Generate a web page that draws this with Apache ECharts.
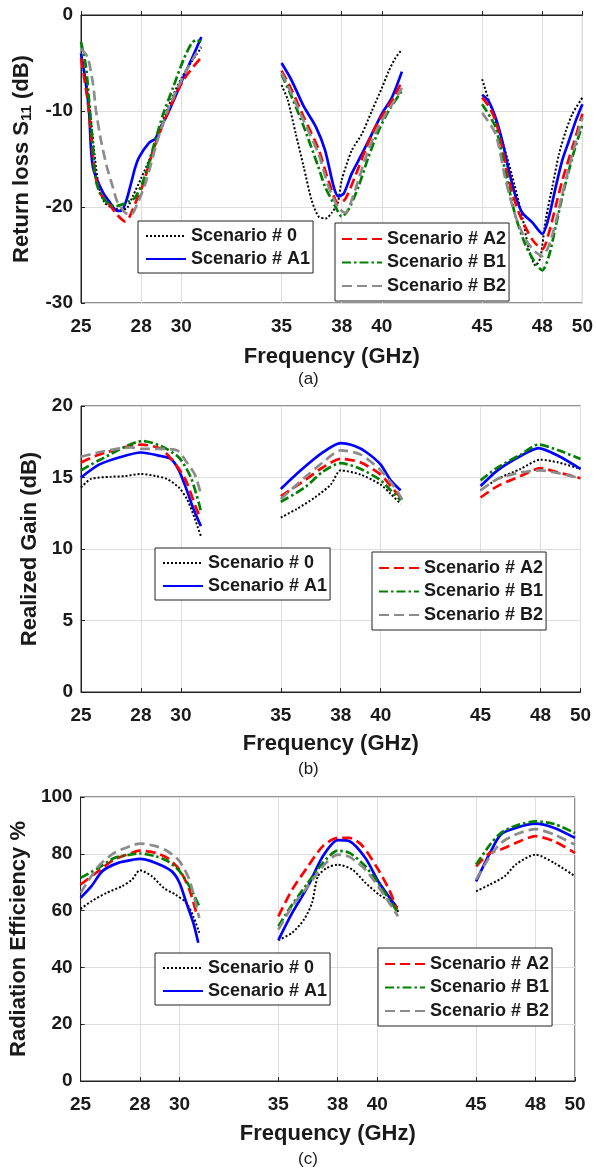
<!DOCTYPE html>
<html>
<head>
<meta charset="utf-8">
<script src="https://cdn.jsdelivr.net/npm/echarts@6/dist/echarts.min.js"></script>
<style>
html,body{margin:0;padding:0;background:#fff;}
#chart{width:596px;height:1169px;}
</style>
</head>
<body>
<div id="chart"></div>
<script>
// ---------------- DATA ----------------
const scenarioNames = ['Scenario # 0', 'Scenario # A1', 'Scenario # A2', 'Scenario # B1', 'Scenario # B2'];
const xTicks = [25, 28, 30, 35, 38, 40, 45, 48, 50];

// (a) Return loss S11 (dB): three bands per scenario, [GHz, dB]
const s11_sc0 = [
  [[25,-4.5],[25.3,-7.5],[25.5,-11],[25.7,-15],[25.9,-18],[26.2,-19.6],[26.6,-20.1],[27,-20.3],[27.3,-20.1],[27.6,-18.8],[28,-17],[28.5,-14.6],[29,-11.5],[29.5,-8.8],[30,-6.6],[30.5,-4.9],[31,-3.4]],
  [[35,-7.3],[35.3,-8.8],[35.7,-12.3],[36.1,-15.8],[36.5,-19.3],[36.85,-21],[37.2,-21.2],[37.5,-20.6],[37.8,-19.6],[38,-17.2],[38.5,-14.1],[39,-12.4],[39.5,-10],[40,-7.6],[40.33,-5.9],[40.67,-4.5],[41,-3.6]],
  [[45,-6.7],[45.5,-10],[46,-13.1],[46.5,-16.8],[47,-21],[47.33,-24.4],[47.67,-26.1],[47.9,-25.3],[48.17,-21.3],[48.5,-17.9],[48.83,-14.5],[49.17,-12.1],[49.5,-10.3],[50,-8.6]]
];
const s11_a1 = [
  [[25,-4],[25.2,-6.5],[25.4,-10],[25.5,-14],[25.6,-15.9],[25.75,-16.9],[26.1,-18.5],[26.4,-19.4],[26.8,-20.4],[27,-20.4],[27.25,-19.4],[27.5,-17.5],[27.7,-15.9],[27.9,-14.8],[28.4,-13.3],[28.7,-12.9],[28.9,-12],[29.25,-10.6],[29.7,-8.5],[30.1,-6.5],[30.6,-4.2],[31,-2.3]],
  [[35,-5],[35.5,-6.8],[36.1,-9.5],[36.7,-11.6],[37.17,-14.1],[37.6,-17.9],[37.83,-18.9],[38.1,-18.6],[38.5,-16.5],[39,-14.5],[39.5,-12.4],[40,-10.3],[40.5,-8.6],[41,-5.9]],
  [[45,-8.3],[45.33,-9],[45.67,-10.7],[46,-13.1],[46.33,-16.2],[46.67,-18.9],[47,-20.6],[47.5,-21.6],[48,-22.8],[48.33,-21],[48.67,-17.9],[49,-15.1],[49.33,-13.1],[49.67,-11],[50,-9.3]]
];
const s11_a2 = [
  [[25,-4.5],[25.33,-8.9],[25.5,-12.4],[25.7,-16.6],[26,-18.7],[26.4,-19.7],[26.8,-20.8],[27.2,-21.5],[27.4,-21.1],[27.75,-19.4],[28.1,-17.6],[28.6,-14.1],[29.1,-11.3],[29.6,-8.9],[30.1,-6.8],[30.6,-5.4],[31,-4.4]],
  [[35,-5.8],[35.5,-7.8],[36.1,-10.6],[36.85,-14],[37.33,-17.2],[37.83,-19.6],[38.17,-19.2],[38.67,-16.8],[39.17,-14.1],[39.67,-11.7],[40.17,-10],[40.67,-8.3],[41,-6.9]],
  [[45,-8.6],[45.33,-9.5],[45.67,-11],[46,-13.8],[46.33,-17.2],[46.83,-20.6],[47.5,-23.4],[48,-24.4],[48.33,-22.7],[48.67,-19.9],[49,-17.2],[49.5,-13.8],[50,-10.3]]
];
const s11_b1 = [
  [[25,-2.8],[25.25,-5.4],[25.4,-8.9],[25.6,-13.8],[25.75,-17.3],[26,-18.8],[26.4,-19.7],[26.75,-19.9],[27.1,-19.7],[27.4,-19.4],[27.7,-19],[28.1,-17.3],[28.6,-13.8],[29.1,-10.3],[29.6,-7.5],[30.1,-4.7],[30.5,-3],[30.75,-2.6],[31,-2.8]],
  [[35,-6.2],[35.5,-8.5],[36.1,-11.6],[36.83,-15.8],[37.17,-17.9],[37.67,-19.9],[38,-21],[38.33,-20.3],[38.83,-17.9],[39.33,-14.8],[39.83,-12.1],[40.33,-10],[41,-7.9]],
  [[45,-9.3],[45.67,-11.7],[46.17,-16.5],[46.67,-21],[47.17,-24],[47.67,-25.9],[48,-26.6],[48.33,-25.1],[48.67,-22],[49,-18.9],[49.5,-14.8],[50,-11.4]]
];
const s11_b2 = [
  [[25,-3.5],[25.33,-4.4],[25.6,-7.2],[25.75,-10],[26,-13.1],[26.3,-15.9],[26.6,-18],[26.8,-19.4],[27.2,-20.6],[27.5,-20.8],[27.8,-19.7],[28.25,-17.3],[28.75,-13.5],[29.25,-10.3],[29.75,-7.9],[30.25,-5.8],[30.75,-4],[31,-3.3]],
  [[35,-6],[35.5,-8.2],[36.1,-11],[36.85,-14.5],[37.33,-17.8],[37.83,-20.1],[38.17,-20.6],[38.67,-18.2],[39.17,-15],[39.67,-12.3],[40.17,-10.4],[40.67,-8.8],[41,-7.6]],
  [[45,-10.2],[45.67,-12.4],[46.17,-17.2],[46.67,-21],[47.17,-23.4],[47.67,-24.7],[48,-25.1],[48.33,-24],[48.67,-21.6],[49,-18.6],[49.5,-14.5],[50,-10.7]]
];

// (b) Realized gain (dB)
const gain_sc0 = [
  [[25,14.3],[25.5,14.9],[26.5,15.05],[27.2,15.1],[28,15.25],[28.75,15.1],[29.3,14.9],[29.9,14.3],[30.3,13.5],[30.6,12.5],[30.85,11.5],[31,10.9]],
  [[35,12.2],[35.8,12.8],[36.7,13.6],[37.5,14.5],[38,15.5],[39,15.2],[40,14.5],[40.5,13.85],[41,13.15]],
  [[45,14.1],[45.85,14.9],[47,15.6],[48,16.25],[48.9,16.05],[50,15.6]]
];
const gain_a1 = [
  [[25,15],[25.9,15.9],[26.9,16.4],[28,16.75],[29,16.5],[29.5,16.3],[29.9,15.5],[30.3,14.1],[30.6,12.9],[31,11.6]],
  [[35,14.2],[36,15.5],[37.1,16.75],[38,17.4],[38.7,17.2],[39.3,16.75],[40,15.9],[40.5,14.8],[41,14.1]],
  [[45,14.4],[45.85,15.5],[47,16.5],[47.9,17.05],[48.9,16.5],[50,15.6]]
];
const gain_a2 = [
  [[25,16.05],[25.9,16.6],[28,17.3],[29,17.0],[29.75,15.9],[30.25,14.8],[30.75,12.9],[31,12.1]],
  [[35,13.7],[36.2,14.8],[37.1,15.7],[38,16.3],[39,16.05],[40,15.2],[40.5,14.4],[41,13.6]],
  [[45,13.6],[45.85,14.4],[47,15.1],[48,15.65],[48.9,15.35],[50,14.95]]
];
const gain_b1 = [
  [[25,15.5],[25.9,16.2],[28.1,17.55],[29,17.2],[29.9,16.4],[30.5,15.0],[30.9,13.2],[31,12.6]],
  [[35,13.3],[36.2,14.3],[37.1,15.4],[38,16.0],[39,15.6],[40,14.8],[40.5,14.1],[41,13.4]],
  [[45,14.8],[45.85,15.7],[47,16.6],[47.9,17.3],[48.9,16.9],[50,16.3]]
];
const gain_b2 = [
  [[25,16.45],[26,16.8],[27.5,17.1],[28,17.0],[29,17.0],[29.8,16.9],[30.3,16.05],[30.7,15.2],[31,13.85]],
  [[35,13.5],[36.2,15.0],[37.1,16.05],[38,16.9],[39,16.6],[40,15.5],[40.8,14.1],[41.2,13.15]],
  [[45,14.1],[45.85,14.9],[47,15.35],[48,15.5],[48.9,15.3],[50,14.95]]
];

// (c) Radiation efficiency (%)
const eff_sc0 = [
  [[25,60.6],[25.55,63.3],[26.3,66.2],[27.1,68.6],[27.6,70.9],[28,74.2],[28.6,72.1],[29.2,68],[29.8,65.6],[30.35,62.7],[30.7,58],[31,52.2]],
  [[35,49.6],[35.7,52.2],[36.3,56.9],[36.7,62.7],[37,72.1],[37.45,75],[38,76.2],[38.75,74.4],[39.4,69.8],[40.1,65.6],[40.9,62.2],[41.05,59.5]],
  [[45,66.8],[45.7,69.2],[46.45,72.1],[47,76.2],[48,79.7],[48.95,76.8],[50,72.1]]
];
const eff_a1 = [
  [[25,64.5],[25.55,68.6],[26.1,73.9],[26.9,76.8],[27.7,78],[28,78.2],[28.8,76.8],[29.6,73.9],[30,69.8],[30.35,62.7],[30.7,55.7],[30.95,48.7]],
  [[35,49.6],[35.7,59.2],[36.5,68.6],[37.25,79.1],[38,84.8],[38.6,84.4],[39.4,78.5],[40.1,69.8],[41,61]],
  [[45,70.3],[45.7,80.3],[46.25,86.8],[47,89.1],[48,90.6],[48.95,89.1],[50,85.6]]
];
const eff_a2 = [
  [[25,69.2],[25.9,73.9],[26.7,78],[27.5,80.1],[28,81.1],[28.8,80.3],[29.4,78.5],[30,74.4],[30.5,67.4],[30.9,58]],
  [[35,58],[35.7,67.4],[36.5,75.6],[37.25,82.7],[38,85.6],[38.6,85.6],[39.2,83.2],[39.95,75.6],[40.6,67.4],[41,60.4]],
  [[45,75.6],[45.7,80.3],[46.25,81.5],[47,83.8],[48,86.2],[48.95,84.4],[50,80.3]]
];
const eff_b1 = [
  [[25,71.5],[25.9,75],[26.7,78.5],[27.5,79.7],[28,80.1],[28.8,79.1],[29.4,77.4],[30,73.9],[30.5,68.6],[31,61.5]],
  [[35,54.5],[35.7,62.1],[36.5,69.8],[37.25,76.8],[38,81.1],[38.6,80.3],[39.4,75.6],[40.1,69.2],[41,59.8]],
  [[45,76.2],[45.7,83.2],[46.25,87.3],[47,89.9],[48,91.4],[48.95,90.5],[50,87.3]]
];
const eff_b2 = [
  [[25,66.2],[25.9,75.6],[26.7,80.3],[27.5,82.7],[28,83.6],[28.8,82.7],[29.4,80.9],[30,77.4],[30.5,70.9],[31,57.4]],
  [[35,53.3],[35.7,61.5],[36.5,68.6],[37.25,75.6],[38,79.7],[38.6,78.9],[39.4,74.4],[40.1,68],[41.05,58]],
  [[45,70.9],[45.7,79.1],[46.25,83.8],[47,86.8],[48,88.7],[48.95,86.8],[50,83.2]]
];

// ---------------- STYLE / BUILD ----------------
const FONT = '"Liberation Sans", Arial, sans-serif';
const TXT = '#1a1a1a';
const lineStyles = [
  { color: '#000000', width: 2,   type: [2, 2] },
  { color: '#0000ff', width: 2.7, type: 'solid' },
  { color: '#ff0000', width: 2.7, type: [10, 5] },
  { color: '#008000', width: 2.7, type: [9, 3, 2.5, 3] },
  { color: '#8c8c8c', width: 2.7, type: [10, 5] }
];

function joinBands(bands) {
  const out = [];
  bands.forEach((b, i) => {
    if (i > 0) out.push([(bands[i - 1][bands[i - 1].length - 1][0] + b[0][0]) / 2, null]);
    b.forEach(p => out.push(p));
  });
  return out;
}

const panels = [
  { data: [s11_sc0, s11_a1, s11_a2, s11_b1, s11_b2], min: -30, max: 0, interval: 10,
    grid: { left: 81, top: 15, right: 12, height: 288 },
    yName: '{n|Return loss S}{sub|11}{n| (dB)}', yGap: 46, xGap: 43,
    leg1: { left: 138, top: 221 }, leg2: { left: 335, top: 223 } },
  { data: [gain_sc0, gain_a1, gain_a2, gain_b1, gain_b2], min: 0, max: 20, interval: 5,
    grid: { left: 81, top: 406, right: 15.5, height: 286 },
    yName: '{n|Realized Gain (dB)}', yGap: 30, xGap: 41,
    leg1: { left: 155, top: 548 }, leg2: { left: 372, top: 552 } },
  { data: [eff_sc0, eff_a1, eff_a2, eff_b1, eff_b2], min: 0, max: 100, interval: 20,
    grid: { left: 80, top: 797, right: 21, height: 284 },
    yName: '{n|Radiation Efficiency %}', yGap: 41, xGap: 42,
    leg1: { left: 155, top: 953 }, leg2: { left: 378, top: 948 } }
];

const grids = [], xAxes = [], yAxes = [], series = [], legends = [];
const legendCommon = {
  orient: 'vertical', itemWidth: 40, itemHeight: 14, itemGap: 3,
  backgroundColor: '#fff', borderColor: '#222', borderWidth: 1, borderRadius: 0,
  padding: [5, 3, 4, 7], selectedMode: false,
  itemStyle: { opacity: 0, borderWidth: 0 },
  textStyle: { fontFamily: FONT, fontWeight: 'bold', fontSize: 18, color: TXT, lineHeight: 20 }
};
panels.forEach((p, gi) => {
  grids.push(Object.assign({ show: true, borderColor: '#222', borderWidth: 1, backgroundColor: '#fff' }, p.grid));
  xAxes.push({
    type: 'value', gridIndex: gi, min: 25, max: 50,
    name: 'Frequency (GHz)', nameLocation: 'middle', nameGap: p.xGap,
    nameTextStyle: { fontFamily: FONT, fontWeight: 'bold', fontSize: 22, color: TXT },
    axisLine: { lineStyle: { color: '#222', width: 1 } },
    axisTick: { inside: true, length: 4, customValues: xTicks, lineStyle: { color: '#222' } },
    axisLabel: { customValues: xTicks, margin: 14, fontFamily: FONT, fontWeight: 'bold', fontSize: 19, color: TXT },
    splitLine: { show: true, lineStyle: { color: '#dedede', width: 1 } }
  });
  yAxes.push({
    type: 'value', gridIndex: gi, min: p.min, max: p.max, interval: p.interval,
    name: p.yName, nameLocation: 'middle', nameRotate: 90, nameGap: p.yGap,
    nameTextStyle: {
      fontFamily: FONT, fontWeight: 'bold', fontSize: 22, color: TXT,
      rich: {
        n: { fontFamily: FONT, fontWeight: 'bold', fontSize: 22, color: TXT, lineHeight: 26 },
        sub: { fontFamily: FONT, fontWeight: 'bold', fontSize: 15, color: TXT, lineHeight: 26, padding: [10, 0, 0, 0] }
      }
    },
    axisLine: { show: true, lineStyle: { color: '#222', width: 1 } },
    axisTick: { show: true, inside: true, length: 4, lineStyle: { color: '#222' } },
    axisLabel: { margin: 8, fontFamily: FONT, fontWeight: 'bold', fontSize: 19, color: TXT },
    splitLine: { show: true, lineStyle: { color: '#dedede', width: 1 } }
  });
  p.data.forEach((bands, si) => {
    series.push({
      name: scenarioNames[si], type: 'line', xAxisIndex: gi, yAxisIndex: gi,
      data: joinBands(bands), symbol: 'none', connectNulls: false, smooth: 0.25,
      lineStyle: lineStyles[si], itemStyle: { color: lineStyles[si].color },
      animation: false, z: 3 + si
    });
  });
  legends.push(Object.assign({}, legendCommon, p.leg1, { data: scenarioNames.slice(0, 2) }));
  legends.push(Object.assign({}, legendCommon, p.leg2, { data: scenarioNames.slice(2), padding: [6, 3, 5, 6], itemGap: 3.5 }));
});

const chart = echarts.init(document.getElementById('chart'), null, { renderer: 'canvas' });
chart.setOption({
  backgroundColor: '#fff',
  animation: false,
  grid: grids, xAxis: xAxes, yAxis: yAxes, series: series, legend: legends,
  graphic: [
    { type: 'text', left: 298, top: 371, style: { text: '(a)', font: '17px ' + FONT, fill: TXT } },
    { type: 'text', left: 298, top: 761, style: { text: '(b)', font: '17px ' + FONT, fill: TXT } },
    { type: 'text', left: 298, top: 1151, style: { text: '(c)', font: '17px ' + FONT, fill: TXT } }
  ]
});
</script>
</body>
</html>
